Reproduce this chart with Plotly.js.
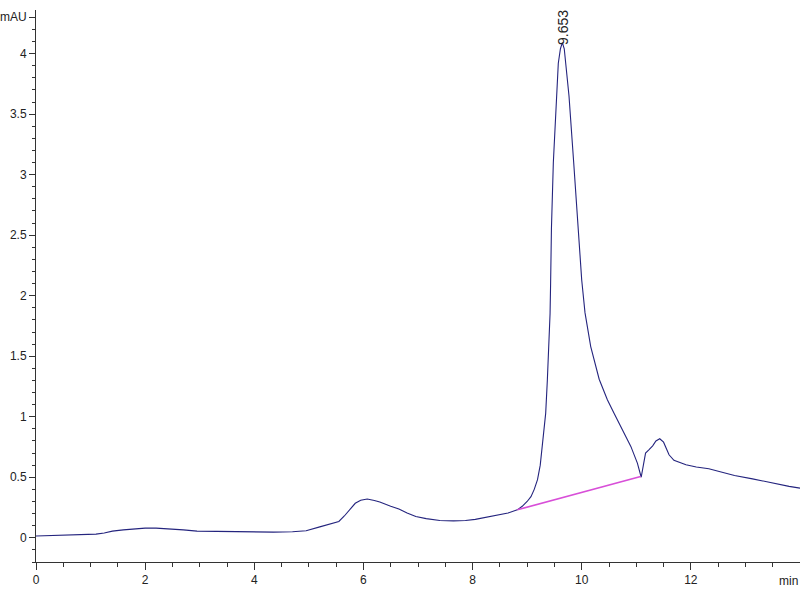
<!DOCTYPE html>
<html>
<head>
<meta charset="utf-8">
<script src="https://cdn.plot.ly/plotly-3.0.1.min.js"></script>
<style>html,body{margin:0;padding:0;background:#fff;}#chart{width:800px;height:600px;}</style>
</head>
<body>
<div id="chart"></div>
<script>
// Retention time (min)
var time = [0.00,0.30,0.60,0.90,1.10,1.25,1.40,1.60,1.80,2.00,2.20,2.45,2.70,2.95,3.30,3.60,4.00,4.35,4.70,4.95,
  5.20,5.40,5.55,5.65,5.75,5.85,5.95,6.07,6.20,6.30,6.50,6.65,6.80,6.96,7.15,7.40,7.65,7.87,8.05,8.18,
  8.35,8.50,8.65,8.82,8.91,9.00,9.07,9.13,9.19,9.24,9.28,9.31,9.34,9.37,9.40,9.42,9.43,9.445,9.48,9.535,
  9.571,9.61,9.645,9.68,9.707,9.767,9.853,9.938,10.00,10.06,10.165,10.32,10.47,10.59,10.74,10.90,11.02,11.09,11.13,11.17,
  11.23,11.30,11.36,11.43,11.50,11.55,11.60,11.69,11.80,11.91,12.10,12.33,12.52,12.80,13.13,13.35,13.55,13.80,14.00];
// Absorbance (mAU)
var signal = [0.015,0.018,0.022,0.027,0.030,0.040,0.055,0.065,0.075,0.080,0.080,0.074,0.065,0.055,0.052,0.052,0.050,0.047,0.050,0.058,
  0.090,0.115,0.135,0.180,0.235,0.285,0.310,0.320,0.308,0.295,0.260,0.237,0.205,0.176,0.158,0.143,0.140,0.143,0.152,0.163,
  0.175,0.190,0.205,0.231,0.260,0.300,0.340,0.400,0.480,0.600,0.755,0.900,1.030,1.300,1.580,1.850,2.100,2.550,3.100,3.650,
  3.920,4.040,4.090,4.040,3.920,3.650,3.100,2.550,2.130,1.860,1.580,1.310,1.140,1.030,0.890,0.755,0.617,0.500,0.600,0.700,
  0.727,0.760,0.800,0.818,0.790,0.730,0.686,0.640,0.620,0.603,0.585,0.570,0.548,0.515,0.487,0.465,0.446,0.425,0.410];
// Integration baseline
var baseTime = [8.82, 11.08];
var baseSignal = [0.231, 0.507];
// Peak label
var peakTime = 9.653;
var peakSignal = 4.09;
var peakLabel = "9.653";
// Tick labels
var xTickVals = [0,2,4,6,8,10,12];
var xTickText = ["0","2","4","6","8","10","12"];
var yTickVals = [0,0.5,1,1.5,2,2.5,3,3.5,4,4.3];
var yTickText = ["0","0.5","1","1.5","2","2.5","3","3.5","4","mAU"];
var xUnit = "min";

var font = {family: "Liberation Sans, Arial, sans-serif", size: 12, color: "#222"};
var peakFont = {family: "Liberation Sans, Arial, sans-serif", size: 14, color: "#222"};

var traces = [
  {x: time, y: signal, type: "scatter", mode: "lines",
   line: {color: "#24247e", width: 1.1}, hoverinfo: "skip"},
  {x: baseTime, y: baseSignal, type: "scatter", mode: "lines",
   line: {color: "#d84fd8", width: 1.6}, hoverinfo: "skip"}
];

var layout = {
  width: 800, height: 600,
  margin: {l: 36, r: 0, t: 10, b: 38},
  paper_bgcolor: "#fff", plot_bgcolor: "#fff",
  showlegend: false,
  font: font,
  xaxis: {
    range: [0, 14], showgrid: false, zeroline: false,
    showline: true, linecolor: "#333", linewidth: 1,
    ticks: "outside", ticklen: 7, tickcolor: "#333",
    tickmode: "array", tickvals: xTickVals, ticktext: xTickText,
    minor: {tickmode: "linear", tick0: 0, dtick: 0.5, ticks: "outside", ticklen: 4, tickcolor: "#333"},
    tickfont: font
  },
  yaxis: {
    range: [-0.2, 4.36], showgrid: false, zeroline: false,
    showline: true, linecolor: "#333", linewidth: 1,
    ticks: "outside", ticklen: 6, tickcolor: "#333",
    tickmode: "array", tickvals: yTickVals, ticktext: yTickText,
    minor: {tickmode: "linear", tick0: 0, dtick: 0.1, ticks: "outside", ticklen: 3, tickcolor: "#333"},
    tickfont: font
  },
  annotations: [
    {x: peakTime, y: peakSignal, xref: "x", yref: "y", text: peakLabel, showarrow: false,
     textangle: -90, xanchor: "center", yanchor: "bottom", yshift: -4, font: peakFont},
    {x: 1, y: 0, xref: "paper", yref: "paper", text: xUnit, showarrow: false,
     xanchor: "right", yanchor: "top", yshift: -10, font: font}
  ]
};

Plotly.newPlot("chart", traces, layout, {displayModeBar: false, staticPlot: true});
</script>
</body>
</html>
